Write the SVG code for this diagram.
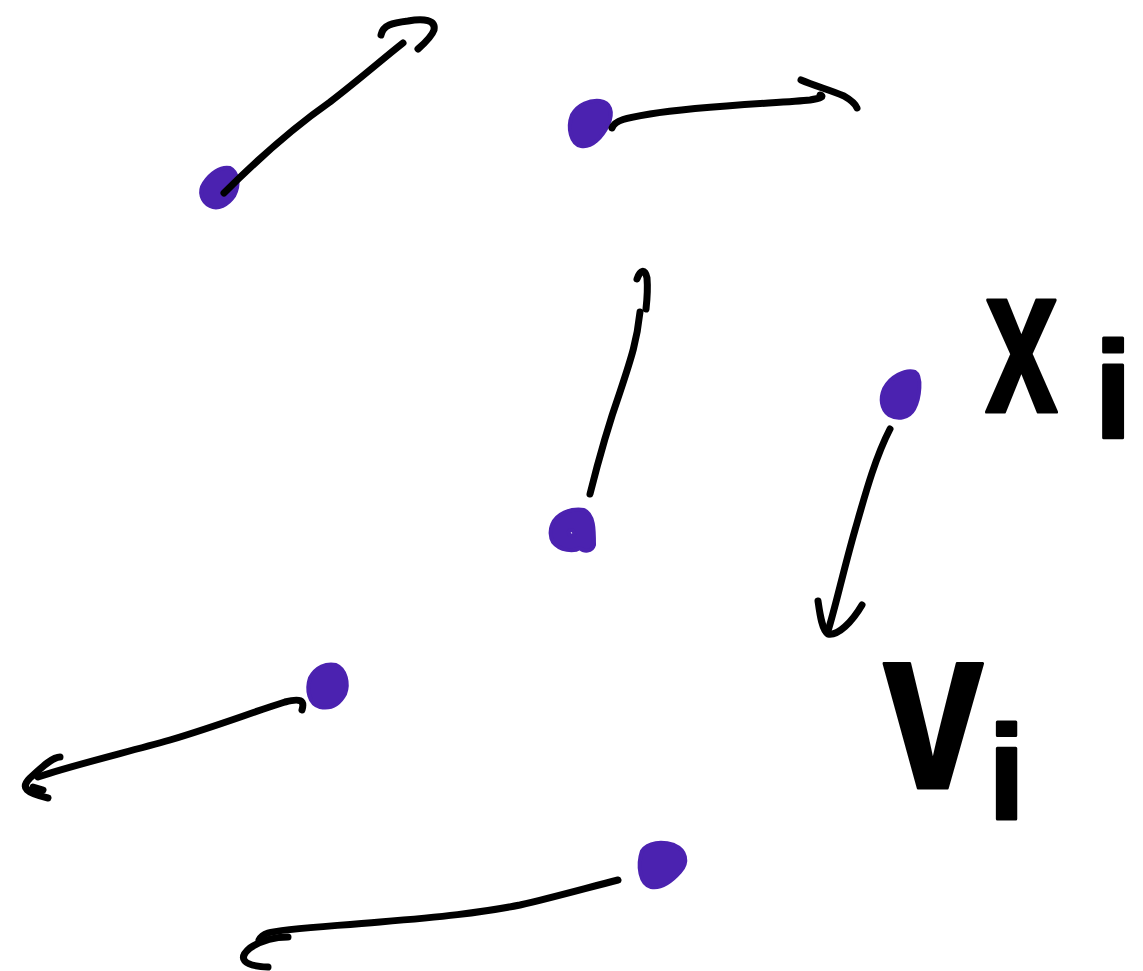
<svg xmlns="http://www.w3.org/2000/svg" width="1143" height="971" viewBox="0 0 1143 971">
<style>
.dot{fill:#4b22b0;stroke:#4b22b0;stroke-width:4;stroke-linejoin:round}
.ln{fill:none;stroke:#000;stroke-width:7;stroke-linecap:round;stroke-linejoin:round}
.lbl{font-family:"Liberation Sans",Arial,sans-serif;font-weight:bold;fill:#000;stroke:#000;stroke-width:3;stroke-linejoin:round}
</style>
<rect width="1143" height="971" fill="#fff"/>
<g id="dot1"><path class="dot" d="M204,183 C210,174 220,166 230,168 C238,172 240,185 234,196 C228,205 218,210 210,206 C202,202 198,192 204,183 Z"/></g>
<g id="dot2"><path class="dot" d="M572,115 C578,104 590,100 600,101 C610,102 614,112 608,125 C602,137 592,148 581,146 C571,144 567,128 572,115 Z"/></g>
<g id="dot3"><path class="dot" d="M552,525 C556,514 570,508 584,510 C594,514 594,530 594,545 C592,552 584,552 580,548 C574,552 560,551 553,542 C550,537 550,530 552,525 Z M569,531 C572,529 575,531 574,535 C571,536 568,535 569,531 Z" fill-rule="evenodd"/></g>
<g id="dot4"><path class="dot" d="M884,389 C890,377 905,369 915,372 C922,376 920,398 914,409 C909,418 898,420 889,415 C881,409 880,398 884,389 Z"/></g>
<g id="dot5"><path class="dot" d="M310,678 C316,667 326,663 336,665 C346,669 349,684 345,694 C339,705 330,709 320,707 C309,704 306,690 310,678 Z"/></g>
<g id="dot6"><path class="dot" d="M642,851 C648,842 662,841 674,845 C686,850 689,862 680,872 C672,881 662,889 651,887 C640,884 637,866 642,851 Z"/></g>
<g id="connectors">
<path class="ln" d="M224,193 C255,162 290,130 330,102 C360,79 385,57 403,43"/>
<path class="ln" d="M381,35 C383,25 392,23 408,21 C424,18 436,20 434,30 C432,36 426,42 418,49"/>
<path class="ln" d="M612,128 C615,120 626,118 650,114 C700,106 780,103 810,100 C822,98 824,96 820,95"/>
<path class="ln" d="M801,80 C815,86 830,90 844,96 C851,100 855,103 857,108"/>
<path class="ln" d="M590,494 C598,462 608,426 620,392 C632,356 637,340 640,312"/>
<path class="ln" d="M637,279 C640,270 645,268 647,278 C648,290 647,300 646,309"/>
<path class="ln" d="M890,429 C875,458 865,495 855,530 C843,572 836,605 828,631"/>
<path class="ln" d="M818,601 C820,615 822,630 828,634 C838,636 852,622 862,605"/>
<path class="ln" d="M302,710 C305,700 300,698 285,702 C250,713 220,725 170,740 C120,754 70,766 38,777"/>
<path class="ln" d="M60,757 C52,757 40,769 30,778 C20,788 26,793 48,798 M33,787 L43,790"/>
<path class="ln" d="M618,880 C590,887 555,897 520,905 C480,913 440,917 380,922 C320,927 280,929 268,933 C262,935 260,938 259,940"/>
<path class="ln" d="M288,937 C275,937 262,940 250,948 C238,958 242,966 268,967"/>
</g>
<g id="label-xi">
<text class="lbl" transform="translate(985,412) scale(0.62,1)" font-size="212">x</text>
<text class="lbl" x="1094" y="438" font-size="138">i</text>
</g>
<g id="label-vi">
<text class="lbl" transform="translate(883,788) scale(0.77,1)" font-size="235">v</text>
<text class="lbl" x="988" y="819" font-size="134">i</text>
</g>
</svg>
